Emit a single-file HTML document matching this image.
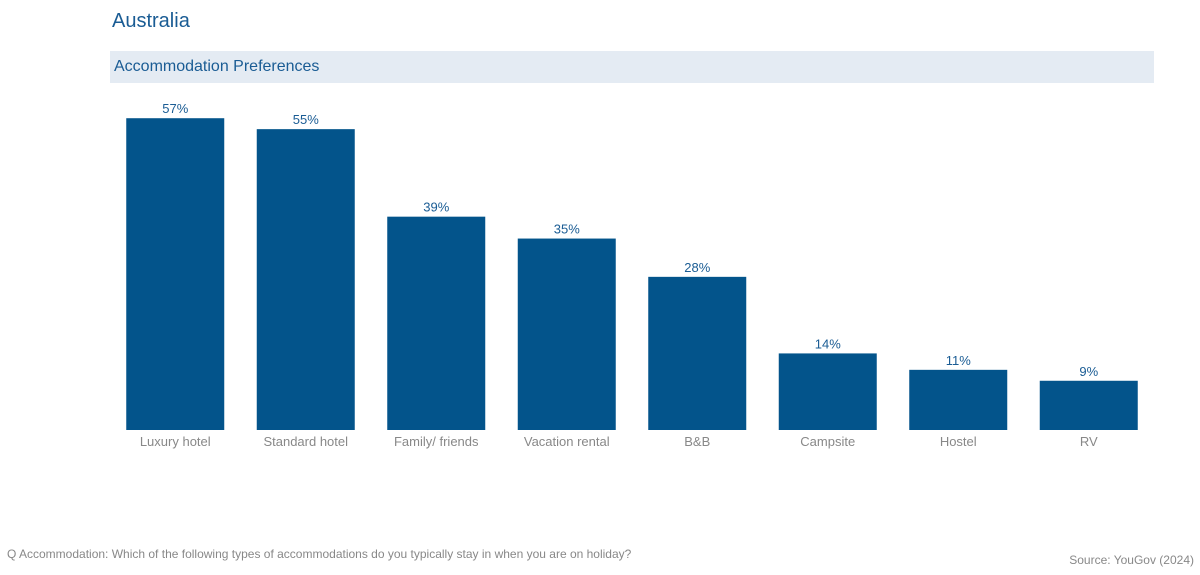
<!DOCTYPE html>
<html><head><meta charset="utf-8"><style>
body{margin:0;width:1200px;height:575px;background:#fff;font-family:"Liberation Sans",sans-serif;position:relative;overflow:hidden}
.t{position:absolute;white-space:nowrap}
</style></head><body>
<div class="t" style="left:112px;top:10px;font-size:20px;color:#1a5c94">Australia</div>
<div style="position:absolute;left:110px;top:51px;width:1044px;height:32px;background:#e4ebf3"></div>
<div class="t" style="left:114px;top:58px;font-size:16px;color:#1a5c94">Accommodation Preferences</div>
<svg id="c" width="1200" height="575" style="position:absolute;left:0;top:0"></svg>
<div class="t" style="left:7px;top:547px;font-size:12px;color:#888">Q Accommodation: Which of the following types of accommodations do you typically stay in when you are on holiday?</div>
<div class="t" style="right:6px;top:553px;font-size:12px;color:#888">Source: YouGov (2024)</div>
<script>
const categories=["Luxury hotel","Standard hotel","Family/ friends","Vacation rental","B&B","Campsite","Hostel","RV"];
const values=[57,55,39,35,28,14,11,9];
const valueLabels=["57%","55%","39%","35%","28%","14%","11%","9%"];
const svg=document.getElementById('c');
const NS='http://www.w3.org/2000/svg';
const x0=110,x1=1154,base=430,scale=5.47;
const band=(x1-x0)/categories.length,bw=98;
function xPos(i){return x0+i*band+(band-bw)/2;}
function yPos(v){return base-v*scale;}
values.forEach((v,i)=>{
  const r=document.createElementNS(NS,'rect');
  
  
  r.setAttribute('x',xPos(i));r.setAttribute('y',yPos(v));
  r.setAttribute('width',bw);r.setAttribute('height',base-yPos(v));
  r.setAttribute('fill','#03548b');svg.appendChild(r);
  const t=document.createElementNS(NS,'text');
  
  
  t.setAttribute('x',xPos(i)+bw/2);t.setAttribute('y',yPos(v)-5);
  t.setAttribute('text-anchor','middle');t.setAttribute('font-size','13');
  t.setAttribute('fill','#1a5c94');t.textContent=valueLabels[i];svg.appendChild(t);
  const c=document.createElementNS(NS,'text');
  
  
  c.setAttribute('x',xPos(i)+bw/2);c.setAttribute('y',base+16);
  c.setAttribute('text-anchor','middle');c.setAttribute('font-size','13');
  c.setAttribute('fill','#888');c.textContent=categories[i];svg.appendChild(c);
});
</script>
</body></html>
